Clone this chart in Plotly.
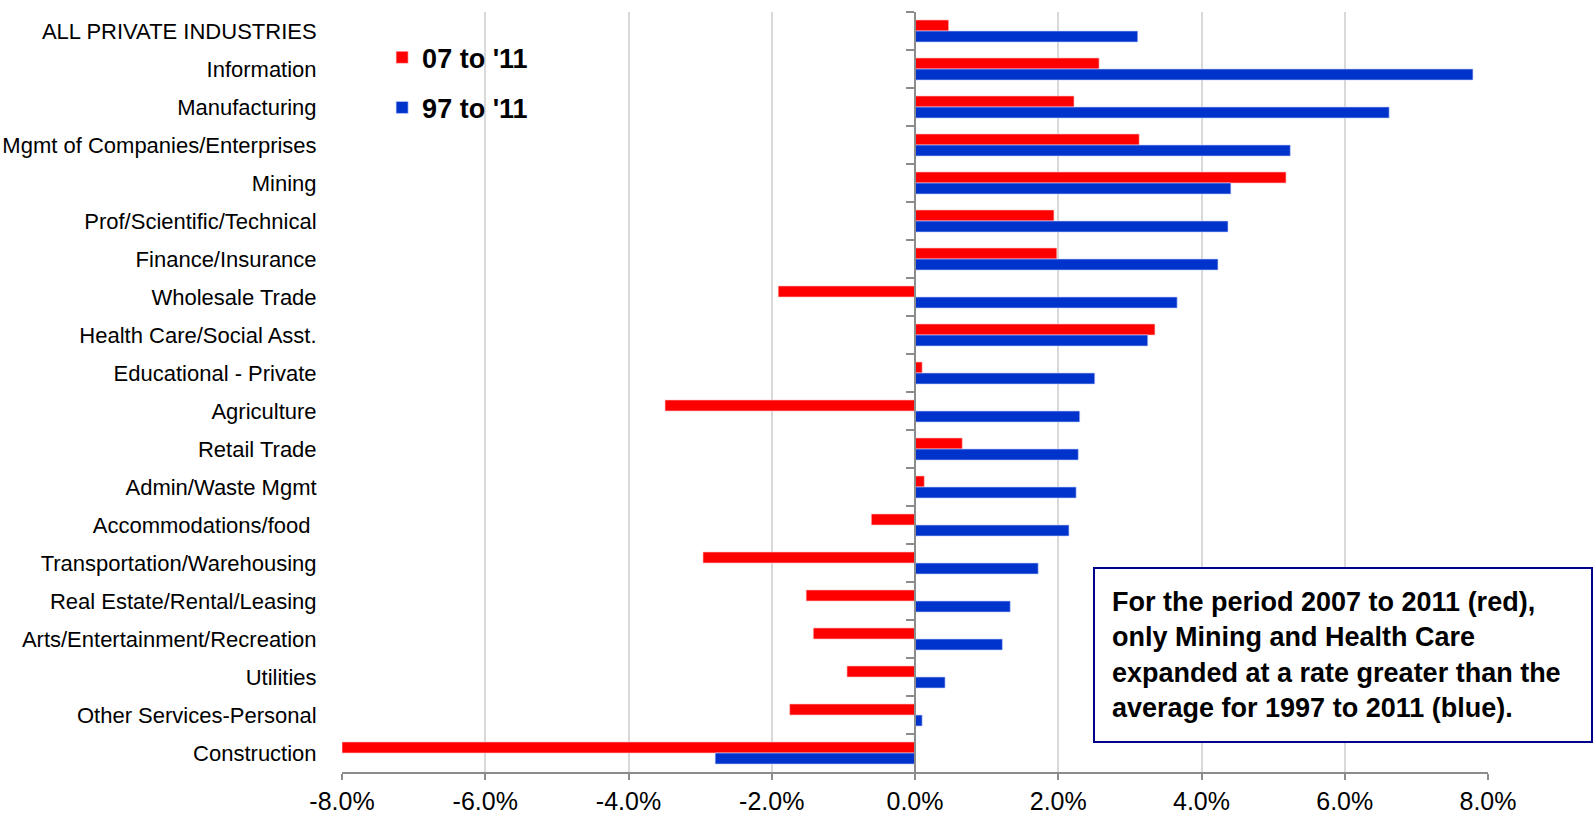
import plotly.graph_objects as go

categories = [
    "ALL PRIVATE INDUSTRIES", "Information", "Manufacturing",
    "Mgmt of Companies/Enterprises", "Mining", "Prof/Scientific/Technical",
    "Finance/Insurance", "Wholesale Trade", "Health Care/Social Asst.",
    "Educational - Private", "Agriculture", "Retail Trade",
    "Admin/Waste Mgmt", "Accommodations/food ", "Transportation/Warehousing",
    "Real Estate/Rental/Leasing", "Arts/Entertainment/Recreation",
    "Utilities", "Other Services-Personal", "Construction",
]
growth_07_11 = [0.47, 2.57, 2.22, 3.13, 5.18, 1.94, 1.98, -1.91, 3.35, 0.10,
                -3.49, 0.66, 0.13, -0.61, -2.96, -1.52, -1.42, -0.95, -1.75, -8.0]
growth_97_11 = [3.11, 7.79, 6.62, 5.24, 4.41, 4.37, 4.23, 3.66, 3.25, 2.51,
                2.30, 2.28, 2.25, 2.15, 1.72, 1.33, 1.22, 0.42, 0.10, -2.79]
x_ticks = [-8, -6, -4, -2, 0, 2, 4, 6, 8]
x_tick_labels = ["-8.0%", "-6.0%", "-4.0%", "-2.0%", "0.0%", "2.0%", "4.0%", "6.0%", "8.0%"]

FONT = "Liberation Sans Narrow, Arial Narrow, Liberation Sans, Arial, sans-serif"
n_cat = len(categories)

fig = go.Figure()
fig.add_trace(go.Bar(
    y=categories, x=growth_07_11, orientation="h", name="07 to '11", legendgroup="a",
    marker=dict(color="#FF0000", line=dict(color="rgba(255,200,200,0.8)", width=0.8)),
))
fig.add_trace(go.Bar(
    y=categories, x=growth_97_11, orientation="h", name="97 to '11", legendgroup="b",
    marker=dict(color="#0033CC", line=dict(color="rgba(200,210,255,0.8)", width=0.8)),
))
# helper trace for the axis drawn along x = 0 (ticks at category boundaries)
fig.add_trace(go.Scatter(
    y=categories, x=[0] * n_cat, yaxis="y2", mode="lines",
    line=dict(width=0), showlegend=False, hoverinfo="skip",
))

fig.update_layout(
    width=1594, height=836,
    margin=dict(l=342, r=106, t=12, b=64, autoexpand=False),
    paper_bgcolor="white", plot_bgcolor="white",
    barmode="group", bargap=0.42, bargroupgap=0,
    font=dict(family=FONT, color="black"),
    showlegend=True,
    legend=dict(
        x=0.035, y=0.972, xanchor="left", yanchor="top",
        font=dict(size=27, family=FONT, color="black", weight="bold"),
        bgcolor="rgba(0,0,0,0)", tracegroupgap=12, itemwidth=30,
    ),
    xaxis=dict(
        range=[-8, 8], tickvals=x_ticks, ticktext=x_tick_labels, automargin=False,
        showgrid=True, gridcolor="#D9D9D9", gridwidth=1.5,
        zeroline=True, zerolinecolor="#8C8C8C", zerolinewidth=2,
        showline=True, linecolor="#8C8C8C", linewidth=2,
        ticks="outside", ticklen=6, tickcolor="#8C8C8C", tickwidth=2,
        tickfont=dict(size=25, family=FONT),
        fixedrange=True,
    ),
    yaxis=dict(
        categoryorder="array", categoryarray=categories,
        range=[n_cat - 0.5, -0.5],
        showline=False, showgrid=False, zeroline=False, automargin=False,
        ticks="outside", ticklen=20, tickcolor="rgba(0,0,0,0)",
        tickfont=dict(size=22, family=FONT),
    ),
    yaxis2=dict(
        overlaying="y", matches="y", anchor="free", position=0.5, side="left",
        showline=True, linecolor="#8C8C8C", linewidth=2, automargin=False,
        ticks="outside", tickson="boundaries", ticklen=8, tickcolor="#8C8C8C", tickwidth=2,
        showticklabels=False, showgrid=False, zeroline=False,
    ),
    annotations=[dict(
        xref="paper", yref="paper", x=0.655, y=0.27, xanchor="left", yanchor="top",
        align="left", valign="middle", showarrow=False, width=462, height=138,
        text=("For the period 2007 to 2011 (red),<br>only Mining and Health Care<br>"
              "expanded at a rate greater than the<br>average for 1997 to 2011 (blue)."),
        font=dict(size=27, family=FONT, color="black", weight="bold"),
        bordercolor="#00008B", borderwidth=2, borderpad=17, bgcolor="white",
    )],
)

fig.write_html(
    "out.html",
    config={"displayModeBar": False},
    post_script="document.body.style.margin='0';document.body.style.overflow='hidden';"
                "document.documentElement.style.overflow='hidden';",
)
